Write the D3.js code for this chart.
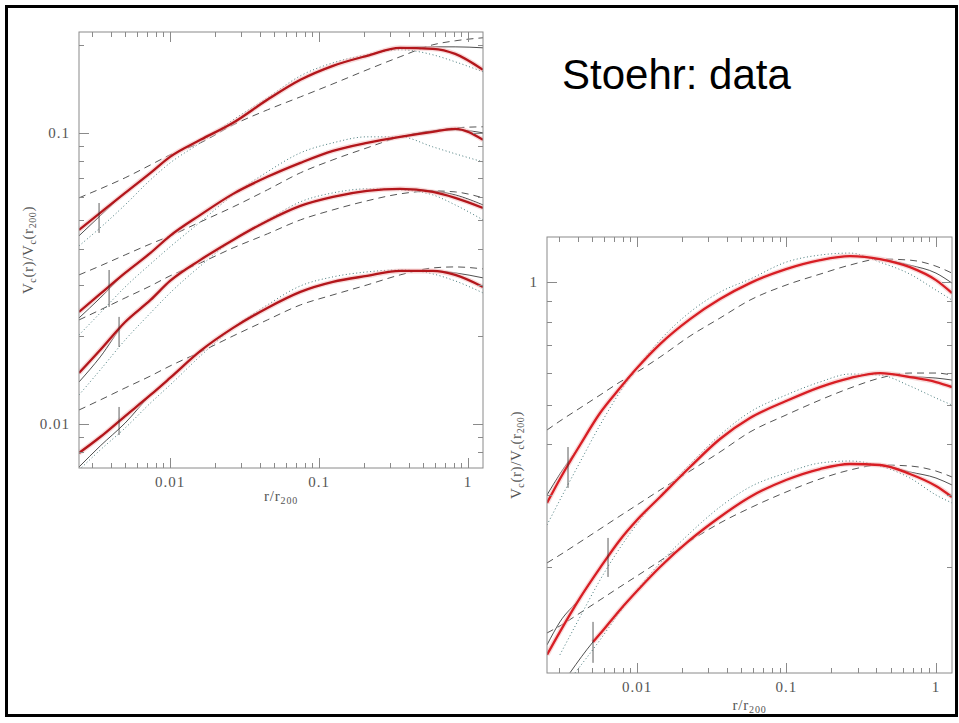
<!DOCTYPE html>
<html lang="en">
<head>
<meta charset="UTF-8">
<title>Stoehr: data</title>
<script src="https://d3js.org/d3.v7.min.js"></script>
<style>
  body { margin: 0; background: #fff; }
</style>
</head>
<body>
<script>
// ---- data ----
// left panel: r/r200 grid and Vc(r)/Vc(r200) for 4 haloes
var rLeft = [0.00245, 0.0034, 0.005, 0.0074, 0.01, 0.016, 0.0265, 0.045, 0.075, 0.124, 0.21, 0.35, 0.58, 0.82, 1.26];

var h1Data   = [0.0464, 0.0531, 0.0622, 0.0729, 0.0827, 0.0946, 0.1083, 0.1299, 0.1521, 0.1699, 0.1839, 0.1959, 0.1944, 0.1868, 0.1646];
var h1Fit    = [0.0443, 0.0519, 0.0622, 0.0729, 0.0827, 0.0946, 0.1083, 0.1299, 0.1521, 0.1699, 0.1839, 0.1959, 0.1974, 0.1974, 0.1959];
var h1Nfw    = [0.0598, 0.0642, 0.0701, 0.0776, 0.0840, 0.0924, 0.1065, 0.1199, 0.1329, 0.1473, 0.1646, 0.1825, 0.2006, 0.2071, 0.2121];
var h1Moore  = [0.0409, 0.0472, 0.0566, 0.0690, 0.0788, 0.0924, 0.1108, 0.1319, 0.1570, 0.1740, 0.1854, 0.1929, 0.1854, 0.1754, 0.1621];

var h2Data   = [0.02426, 0.02797, 0.03303, 0.0387, 0.04426, 0.05226, 0.06171, 0.07062, 0.07888, 0.08671, 0.0924, 0.09689, 0.1008, 0.1032, 0.0946];
var h2Fit    = [0.02313, 0.0271, 0.03303, 0.0387, 0.04426, 0.05226, 0.06171, 0.07062, 0.07888, 0.08671, 0.0924, 0.09689, 0.1016, 0.1024, 0.1000];
var h2Nfw    = [0.03251, 0.03491, 0.03809, 0.04155, 0.04426, 0.04944, 0.05566, 0.0637, 0.0729, 0.08079, 0.08882, 0.09689, 0.1016, 0.1040, 0.1049];
var h2Moore  = [0.02022, 0.02406, 0.02956, 0.03546, 0.04057, 0.04944, 0.06122, 0.07345, 0.08536, 0.0924, 0.09689, 0.09689, 0.08951, 0.08473, 0.07949];

var h3Data   = [0.01497, 0.01796, 0.02241, 0.02667, 0.0310, 0.03662, 0.04288, 0.04983, 0.05612, 0.06026, 0.06318, 0.0642, 0.06268, 0.0598, 0.05523];
var h3Fit    = [0.01394, 0.01699, 0.02241, 0.02667, 0.0310, 0.03662, 0.04288, 0.04983, 0.05612, 0.06026, 0.06318, 0.0642, 0.06318, 0.06122, 0.05656];
var h3Nfw    = [0.02277, 0.02465, 0.0271, 0.0298, 0.03226, 0.03574, 0.04025, 0.04497, 0.05023, 0.05438, 0.05841, 0.06171, 0.06318, 0.06268, 0.0598];
var h3Moore  = [0.01258, 0.01533, 0.01944, 0.02406, 0.02819, 0.03491, 0.04288, 0.05023, 0.05795, 0.0622, 0.0642, 0.0637, 0.06122, 0.05656, 0.05023];

var h4Data   = [0.007951, 0.009022, 0.01065, 0.01258, 0.01439, 0.01782, 0.02138, 0.02503, 0.02842, 0.03076, 0.03226, 0.03356, 0.03356, 0.03251, 0.02956];
var h4Fit    = [0.007116, 0.008403, 0.01008, 0.01258, 0.01439, 0.01782, 0.02138, 0.02503, 0.02842, 0.03076, 0.03226, 0.03356, 0.03356, 0.03303, 0.03176];
var h4Nfw    = [0.01117, 0.01209, 0.0133, 0.01462, 0.01582, 0.01768, 0.02006, 0.02277, 0.02564, 0.02776, 0.03003, 0.03251, 0.03436, 0.03463, 0.03409];
var h4Moore  = [0.006949, 0.00814, 0.009689, 0.01181, 0.01361, 0.01713, 0.02138, 0.02564, 0.0298, 0.03201, 0.03329, 0.03382, 0.03277, 0.031, 0.02819];

// convergence radius marks, left panel
var leftMarkR  = [0.00334, 0.0039, 0.00455, 0.00455];
var leftMarkLo = [0.0453, 0.02523, 0.01839, 0.00917];
var leftMarkHi = [0.0574, 0.0338, 0.02332, 0.01144];

// right panel
var rRight  = [0.0025, 0.00305, 0.00416, 0.00566, 0.00769, 0.01, 0.01426, 0.02264, 0.0359, 0.057, 0.0993, 0.1676, 0.266, 0.422, 0.67, 1.0, 1.28];
var rRightC = [0.00356, 0.00385, 0.00508, 0.00566, 0.00769, 0.01, 0.01426, 0.02264, 0.0359, 0.057, 0.0993, 0.1676, 0.266, 0.422, 0.67, 1.0, 1.28];

var aData  = [0.2873, 0.3290, 0.3986, 0.4775, 0.5497, 0.6155, 0.7047, 0.8115, 0.9085, 0.9944, 1.076, 1.132, 1.158, 1.139, 1.088, 1.011, 0.9398];
var aFit   = [0.3006, 0.3384, 0.3986, 0.4775, 0.5497, 0.6155, 0.7047, 0.8115, 0.9085, 0.9944, 1.076, 1.132, 1.158, 1.139, 1.100, 1.052, 0.9944];
var aNfw   = [0.4338, 0.4563, 0.4912, 0.5285, 0.5688, 0.6018, 0.6549, 0.7375, 0.8162, 0.9034, 0.9832, 1.046, 1.101, 1.139, 1.132, 1.094, 1.052];
var aMoore = [0.2538, 0.2922, 0.3621, 0.4462, 0.5374, 0.6155, 0.7208, 0.8442, 0.9451, 1.017, 1.119, 1.165, 1.178, 1.119, 1.046, 0.9558, 0.9034];

var bData  = [0.1219, 0.1388, 0.1681, 0.1991, 0.2332, 0.2610, 0.2972, 0.3520, 0.4123, 0.4642, 0.5109, 0.5529, 0.5817, 0.5984, 0.5850, 0.5688, 0.5529];
var bFit   = [0.1289, 0.1468, 0.1681, 0.1991, 0.2332, 0.2610, 0.2972, 0.3520, 0.4123, 0.4642, 0.5109, 0.5529, 0.5817, 0.5984, 0.5867, 0.5817, 0.5752];
var bNfw   = [0.2048, 0.2142, 0.2305, 0.2481, 0.2670, 0.2841, 0.3091, 0.3441, 0.3831, 0.4289, 0.4721, 0.5138, 0.5497, 0.5817, 0.5984, 0.5984, 0.5916];
var bMoore = [null, 0.1219, 0.1510, 0.1860, 0.2229, 0.2551, 0.2989, 0.3580, 0.4217, 0.4801, 0.5285, 0.5688, 0.5950, 0.5916, 0.5561, 0.5196, 0.4995];

var cData  = [null, null, 0.1311, 0.1372, 0.1571, 0.1748, 0.2002, 0.2332, 0.2655, 0.2972, 0.3271, 0.3480, 0.3580, 0.3560, 0.3384, 0.3162, 0.2972];
var cFit   = [0.1101, null, 0.1311, 0.1372, 0.1571, 0.1748, 0.2002, 0.2332, 0.2655, 0.2972, 0.3271, 0.3480, 0.3580, 0.3560, 0.3422, 0.3308, 0.3180];
var cNfw   = [0.1379, 0.1435, 0.1544, 0.1662, 0.1789, 0.1903, 0.2071, 0.2318, 0.2566, 0.2793, 0.3056, 0.3290, 0.3461, 0.3560, 0.3540, 0.3441, 0.3327];
var cMoore = [null, 0.1101, null, 0.1326, 0.1553, 0.1758, 0.2048, 0.2425, 0.2809, 0.3145, 0.3403, 0.3600, 0.3641, 0.3540, 0.3308, 0.3006, 0.2873];

var rightMarkR  = [0.003455, 0.0064, 0.00508];
var rightMarkLo = [0.3128, 0.1892, 0.1165];
var rightMarkHi = [0.394, 0.2358, 0.1468];

// tick labels
var leftXLabels  = [0.01, 0.1, 1];
var leftYLabels  = [0.01, 0.1];
var rightXLabels = [0.01, 0.1, 1];
var rightYLabels = [1];

// ---- drawing ----
var width = 959, height = 723;
var svg = d3.select('body').append('svg').attr('width', width).attr('height', height);
svg.append('rect').attr('width', width).attr('height', height).attr('fill', '#fff');

// outer slide border
svg.append('rect').attr('x', 6.5).attr('y', 6.5).attr('width', 950).attr('height', 709)
    .attr('fill', 'none').attr('stroke', '#000').attr('stroke-width', 3);

svg.append('text').attr('x', 562).attr('y', 89)
    .attr('font-family', 'Liberation Sans, Arial, sans-serif').attr('font-size', 42)
    .attr('fill', '#000').text('Stoehr: data');

var panels = [
    {
        id: 'L', box: [79, 32, 483, 468],
        x: d3.scaleLog().domain([0.00245, 1.26]).range([79, 483]),
        y: d3.scaleLog().domain([0.00706, 0.222]).range([468, 32]),
        red: '#b3161b',
        series: [
            [rLeft, h1Nfw, 'dash'], [rLeft, h2Nfw, 'dash'], [rLeft, h3Nfw, 'dash'], [rLeft, h4Nfw, 'dash'],
            [rLeft, h1Moore, 'dot'], [rLeft, h2Moore, 'dot'], [rLeft, h3Moore, 'dot'], [rLeft, h4Moore, 'dot'],
            [rLeft, h1Fit, 'fit'], [rLeft, h2Fit, 'fit'], [rLeft, h3Fit, 'fit'], [rLeft, h4Fit, 'fit'],
            [rLeft, h1Data, 'data'], [rLeft, h2Data, 'data'], [rLeft, h3Data, 'data'], [rLeft, h4Data, 'data']
        ],
        marks: [leftMarkR, leftMarkLo, leftMarkHi],
        xLabels: leftXLabels, yLabels: leftYLabels,
        xTitleY: 501, yTitleX: 28
    },
    {
        id: 'R', box: [547, 237, 952, 673],
        x: d3.scaleLog().domain([0.0025, 1.28]).range([547, 952]),
        y: d3.scaleLog().domain([0.11, 1.29]).range([673, 237]),
        red: '#d81e24',
        series: [
            [rRight, aNfw, 'dash'], [rRight, bNfw, 'dash'], [rRight, cNfw, 'dash'],
            [rRight, aMoore, 'dot'], [rRight, bMoore, 'dot'], [rRightC, cMoore, 'dot'],
            [rRight, aFit, 'fit'], [rRight, bFit, 'fit'], [rRightC, cFit, 'fit'],
            [rRight, aData, 'data'], [rRight, bData, 'data'], [rRightC, cData, 'data']
        ],
        marks: [rightMarkR, rightMarkLo, rightMarkHi],
        xLabels: rightXLabels, yLabels: rightYLabels,
        xTitleY: 710, yTitleX: 516
    }
];

var axisColor = '#8a8a8a';
var labelFont = 'Liberation Serif, Times New Roman, serif';
var labelColor = '#555';

function logTicks(dom) {
    var out = [];
    for (var d = -4; d <= 1; d++) {
        for (var k = 1; k <= 9; k++) {
            var v = +(k * Math.pow(10, d)).toPrecision(6);
            if (v > dom[0] * 1.0001 && v < dom[1] / 1.0001) out.push({ v: v, major: k === 1 });
        }
    }
    return out;
}

function fmt(v) { return v >= 1 ? String(v) : String(+v.toPrecision(3)); }

panels.forEach(function (p) {
    var x = p.x, y = p.y, b = p.box;
    var g = svg.append('g');

    g.append('clipPath').attr('id', 'clip' + p.id)
        .append('rect').attr('x', b[0]).attr('y', b[1]).attr('width', b[2] - b[0]).attr('height', b[3] - b[1]);

    var plot = g.append('g').attr('clip-path', 'url(#clip' + p.id + ')');
    var line = d3.line().x(function (d) { return x(d[0]); }).y(function (d) { return y(d[1]); })
        .curve(d3.curveMonotoneX);

    p.series.forEach(function (s) {
        var pts = s[0].map(function (r, i) { return [r, s[1][i]]; })
            .filter(function (d) { return d[1] != null; });
        if (s[2] === 'data') {
            plot.append('path').attr('d', line(pts)).attr('fill', 'none')
                .attr('stroke', '#f3bcbc').attr('stroke-width', 5).attr('stroke-opacity', 0.55);
        }
        var path = plot.append('path').attr('d', line(pts)).attr('fill', 'none');
        if (s[2] === 'dash') path.attr('stroke', '#555').attr('stroke-width', 1).attr('stroke-dasharray', '7,5');
        if (s[2] === 'dot') path.attr('stroke', '#477a7c').attr('stroke-width', 1).attr('stroke-dasharray', '1,2.5');
        if (s[2] === 'fit') path.attr('stroke', '#222').attr('stroke-width', 0.8);
        if (s[2] === 'data') path.attr('stroke', p.red).attr('stroke-width', 2.3);
    });

    // convergence marks
    p.marks[0].forEach(function (r, i) {
        plot.append('line').attr('x1', x(r)).attr('x2', x(r))
            .attr('y1', y(p.marks[1][i])).attr('y2', y(p.marks[2][i]))
            .attr('stroke', '#333').attr('stroke-width', 0.8);
    });

    // frame
    g.append('rect').attr('x', b[0]).attr('y', b[1]).attr('width', b[2] - b[0]).attr('height', b[3] - b[1])
        .attr('fill', 'none').attr('stroke', axisColor).attr('stroke-width', 1);

    // ticks on all sides, pointing inward
    logTicks(x.domain()).forEach(function (t) {
        var len = t.major ? 10 : 5, xx = Math.round(x(t.v)) + 0.5;
        g.append('line').attr('x1', xx).attr('x2', xx).attr('y1', b[3]).attr('y2', b[3] - len).attr('stroke', axisColor);
        g.append('line').attr('x1', xx).attr('x2', xx).attr('y1', b[1]).attr('y2', b[1] + len).attr('stroke', axisColor);
    });
    logTicks(y.domain()).forEach(function (t) {
        var len = t.major ? 10 : 5, yy = Math.round(y(t.v)) + 0.5;
        g.append('line').attr('y1', yy).attr('y2', yy).attr('x1', b[0]).attr('x2', b[0] + len).attr('stroke', axisColor);
        g.append('line').attr('y1', yy).attr('y2', yy).attr('x1', b[2]).attr('x2', b[2] - len).attr('stroke', axisColor);
    });

    // tick labels
    p.xLabels.forEach(function (v) {
        g.append('text').attr('x', x(v)).attr('y', b[3] + 19).attr('text-anchor', 'middle')
            .attr('font-family', labelFont).attr('font-size', 15).attr('letter-spacing', 1)
            .attr('fill', labelColor).text(fmt(v));
    });
    p.yLabels.forEach(function (v) {
        g.append('text').attr('x', b[0] - 9).attr('y', y(v) + 5).attr('text-anchor', 'end')
            .attr('font-family', labelFont).attr('font-size', 15).attr('letter-spacing', 1)
            .attr('fill', labelColor).text(fmt(v));
    });

    // axis titles
    var xt = g.append('text').attr('x', (b[0] + b[2]) / 2).attr('y', p.xTitleY).attr('text-anchor', 'middle')
        .attr('font-family', labelFont).attr('font-size', 15).attr('letter-spacing', 0.8).attr('fill', labelColor);
    xt.append('tspan').text('r/r');
    xt.append('tspan').attr('dy', 3).attr('font-size', 10).text('200');

    var cy = (b[1] + b[3]) / 2;
    var yt = g.append('text').attr('transform', 'translate(' + (p.yTitleX + 5) + ',' + cy + ') rotate(-90)')
        .attr('text-anchor', 'middle').attr('font-family', labelFont).attr('font-size', 15)
        .attr('letter-spacing', 0.6).attr('fill', labelColor);
    yt.append('tspan').text('V');
    yt.append('tspan').attr('dy', 3).attr('font-size', 10).text('c');
    yt.append('tspan').attr('dy', -3).text('(r)/V');
    yt.append('tspan').attr('dy', 3).attr('font-size', 10).text('c');
    yt.append('tspan').attr('dy', -3).text('(r');
    yt.append('tspan').attr('dy', 3).attr('font-size', 10).text('200');
    yt.append('tspan').attr('dy', -3).text(')');
});
</script>
</body>
</html>
